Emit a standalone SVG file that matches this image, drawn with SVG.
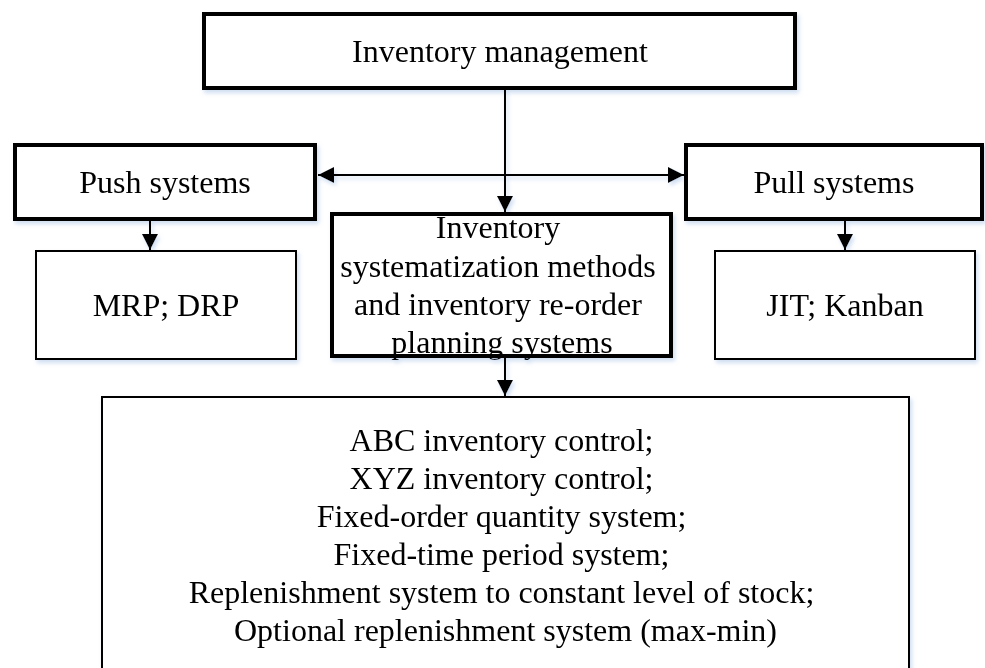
<svg xmlns="http://www.w3.org/2000/svg" width="985" height="668" viewBox="0 0 985 668">
  <defs>
    <filter id="soft" x="-5%" y="-5%" width="110%" height="115%">
      <feDropShadow dx="2" dy="3" stdDeviation="2" flood-color="#a9c3e6" flood-opacity="0.55"/>
    </filter>
    <marker id="arr" viewBox="0 0 16 16" refX="16" refY="8" markerWidth="16" markerHeight="16" markerUnits="userSpaceOnUse" orient="auto-start-reverse">
      <path d="M0,0 L16,8 L0,16 Z" fill="#000"/>
    </marker>
  </defs>
  <style>
    .thick { fill: #fff; stroke: #000; stroke-width: 4; }
    .thin { fill: #fff; stroke: #000; stroke-width: 2; }
    .lbl { font-family: "Liberation Serif", "Times New Roman", serif; font-size: 32px; fill: #000; text-anchor: middle; }
    .conn { stroke: #000; stroke-width: 2; fill: none; }
  </style>
  <rect width="985" height="668" fill="#fff"/>
  <g filter="url(#soft)">
    <g id="inventory-management">
      <rect class="thick" x="204" y="14" width="591" height="74"/>
      <text class="lbl" x="500" y="62">Inventory management</text>
    </g>
    <g id="push-systems">
      <rect class="thick" x="15" y="145" width="300" height="74"/>
      <text class="lbl" x="165" y="193">Push systems</text>
    </g>
    <g id="pull-systems">
      <rect class="thick" x="686" y="145" width="296" height="74"/>
      <text class="lbl" x="834" y="193">Pull systems</text>
    </g>
    <g id="mrp-drp">
      <rect class="thin" x="36" y="251" width="260" height="108"/>
      <text class="lbl" x="166" y="316">MRP; DRP</text>
    </g>
    <g id="jit-kanban">
      <rect class="thin" x="715" y="251" width="260" height="108"/>
      <text class="lbl" x="845" y="316">JIT; Kanban</text>
    </g>
    <g id="systematization">
      <rect class="thick" x="332" y="214" width="339" height="142"/>
      <text class="lbl" x="502">
        <tspan x="502" y="238">Inventory</tspan>
        <tspan x="502" y="277">systematization methods</tspan>
        <tspan x="502" y="315">and inventory re-order</tspan>
        <tspan x="502" y="353">planning systems</tspan>
      </text>
    </g>
    <g id="methods-list">
      <rect class="thin" x="102" y="397" width="807" height="290"/>
      <text class="lbl" x="505.5">
        <tspan x="505.5" y="451">ABC inventory control;</tspan>
        <tspan x="505.5" y="489">XYZ inventory control;</tspan>
        <tspan x="505.5" y="527">Fixed-order quantity system;</tspan>
        <tspan x="505.5" y="565">Fixed-time period system;</tspan>
        <tspan x="505.5" y="603">Replenishment system to constant level of stock;</tspan>
        <tspan x="505.5" y="641">Optional replenishment system (max-min)</tspan>
      </text>
    </g>
    <g id="connectors">
      <line class="conn" x1="505" y1="90" x2="505" y2="212" marker-end="url(#arr)"/>
      <line class="conn" x1="318" y1="175" x2="684" y2="175" marker-start="url(#arr)" marker-end="url(#arr)"/>
      <line class="conn" x1="150" y1="221" x2="150" y2="250" marker-end="url(#arr)"/>
      <line class="conn" x1="845" y1="221" x2="845" y2="250" marker-end="url(#arr)"/>
      <line class="conn" x1="505" y1="358" x2="505" y2="396" marker-end="url(#arr)"/>
    </g>
  </g>
</svg>
